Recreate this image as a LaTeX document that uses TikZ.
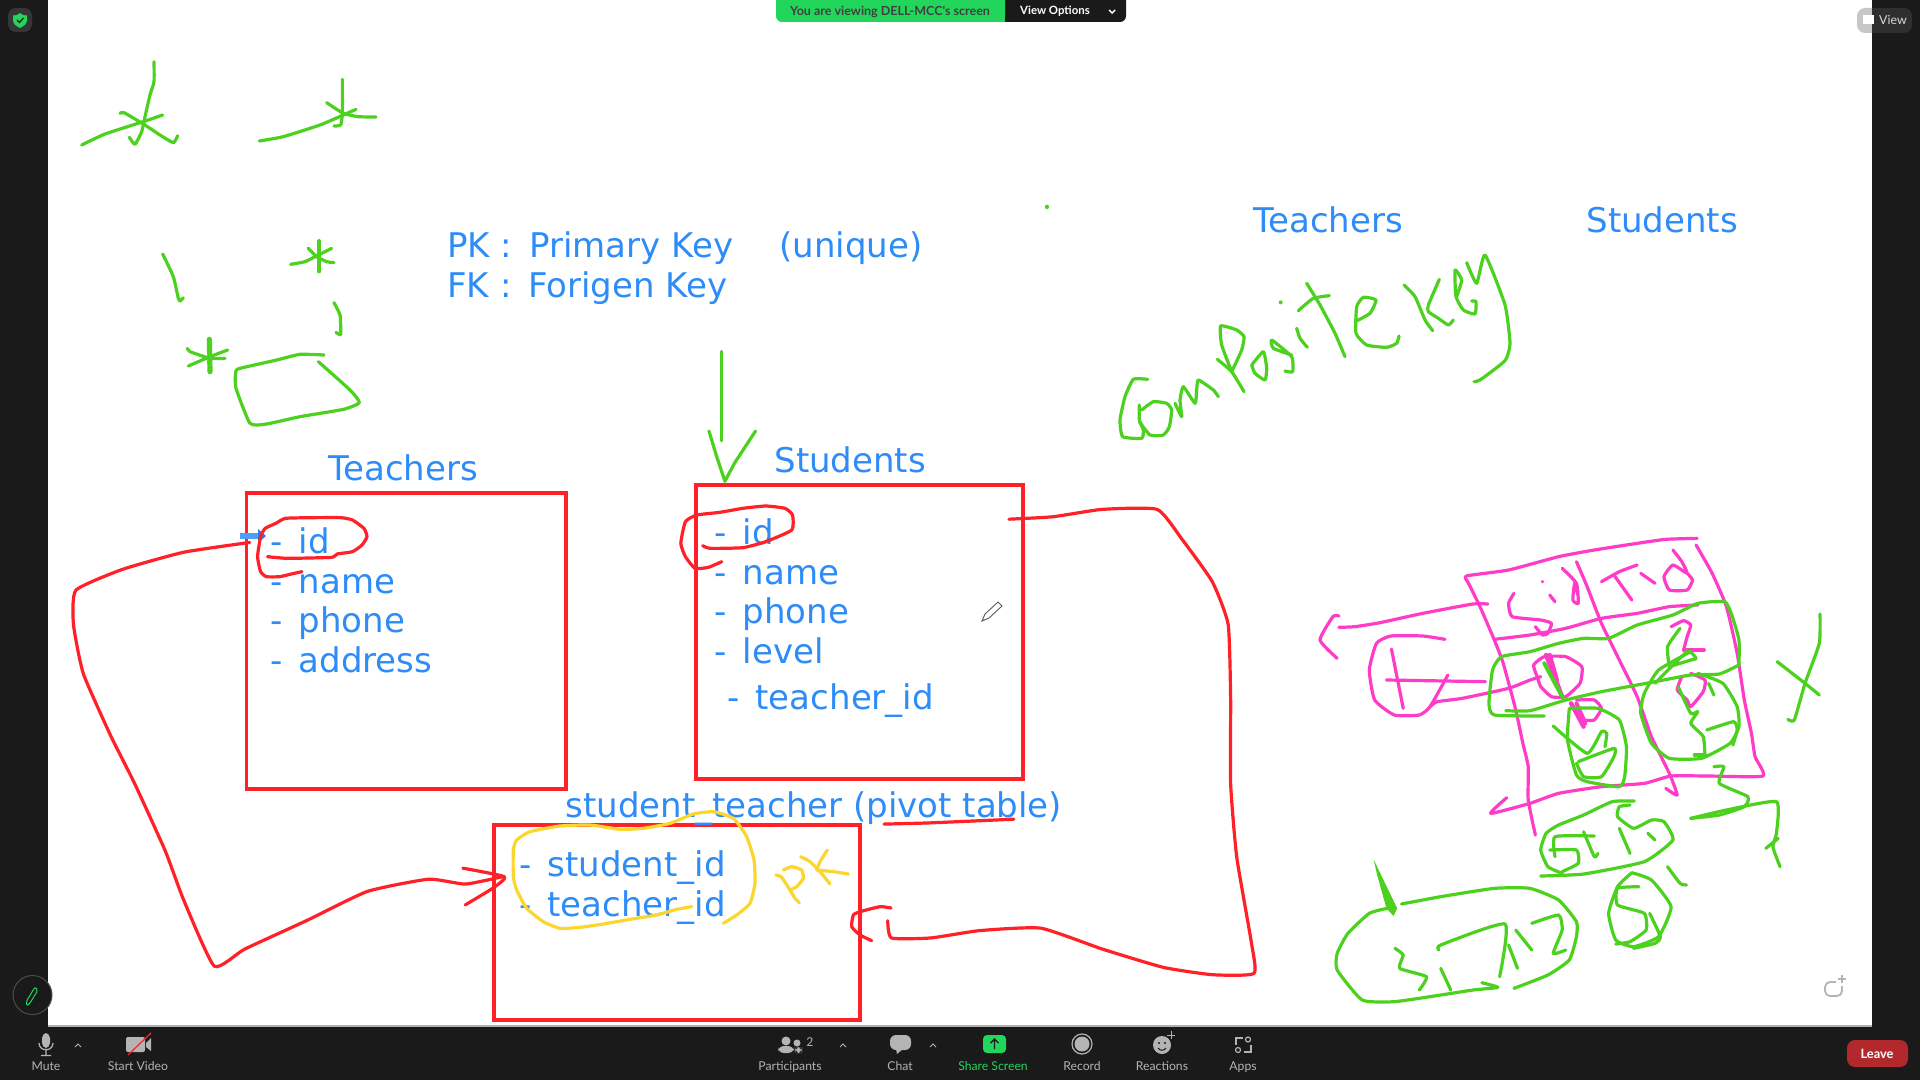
\documentclass[tikz,border=0pt]{standalone}
\usepackage{fontspec}
\setmainfont{DejaVu Sans}
\newfontfamily\uifont{Lato}
\definecolor{barbg}{HTML}{1A1A1A}
\definecolor{txtblue}{HTML}{2E8CF8}
\definecolor{inkred}{HTML}{FF2028}
\definecolor{inkgreen}{HTML}{4CD11E}
\definecolor{inkpink}{HTML}{FF3CC8}
\definecolor{inkyellow}{HTML}{FBD62E}
\definecolor{zgreen}{HTML}{22D65C}
\definecolor{uigrey}{HTML}{B4B4B4}
\definecolor{leavered}{HTML}{B3282D}
\newcommand{\sk}[2][]{\draw[#1] plot[smooth,tension=0.3] coordinates {#2};}
\tikzset{
  x=0.5pt,y=-0.5pt,
  ink/.style={line width=1.6pt,line cap=round,line join=round},
  grn/.style={ink,draw=inkgreen},
  rd/.style={ink,draw=inkred},
  pnk/.style={ink,draw=inkpink},
  yel/.style={ink,draw=inkyellow},
  tbox/.style={draw=inkred,line width=1.7pt},
  big/.style={anchor=base west,inner sep=0pt,text=txtblue,font=\fontsize{17}{20}\selectfont},
  ui/.style={anchor=base,inner sep=0pt,text=uigrey,font=\uifont\fontsize{6.1}{8}\selectfont},
  zoomA/.style={x=0.16667pt,y=-0.16667pt},
  zoomB/.style={x=0.17857pt,y=-0.16667pt},
  zoomC/.style={x=0.19135pt,y=-0.16667pt},
  shr/.style={x=0.61224pt,y=-0.61224pt},
}
\newcommand{\dd}{-\hspace{.47em}}
\begin{document}
\begin{tikzpicture}
\useasboundingbox (0,0) rectangle (1920,1080);
\fill[white] (0,0) rectangle (1920,1080);
\fill[barbg] (0,0) rectangle (48,1080);
\fill[barbg] (1872,0) rectangle (1920,1080);
\fill[barbg] (0,1026) rectangle (1920,1080);
\fill[black!30] (48,1025) rectangle (1872,1026.5);

% boxes
\draw[tbox] (246.5,493) rectangle (566,789);
\draw[tbox] (696,485) rectangle (1023,779);
\draw[tbox] (494,825) rectangle (860,1020);

% texts
\node[big] (tT) at (328,480) {Teachers};
\node[big] (tS) at (774,472) {Students};
\node[big] (t1) at (270,553) {\dd id};
\node[big] (t2) at (270,593) {\dd name};
\node[big] (t3) at (270,632) {\dd phone};
\node[big] (t4) at (270,672) {\dd address};
\node[big] (s1) at (714,544) {\dd id};
\node[big] (s2) at (714,584) {\dd name};
\node[big] (s3) at (714,623) {\dd phone};
\node[big] (s4) at (714,663) {\dd level};
\node[big] (s5) at (727,709) {\dd teacher\_id};
\node[big] (p0) at (565,817) {student\_teacher (pivot table)};
\node[big] (p1) at (519,876) {\dd student\_id};
\node[big] (p2) at (519,916) {\dd teacher\_id};
\node[big] (pk) at (447,258) {PK :\hspace{3pt} Primary Key};
\node[big] (un) at (779,258) {(unique)};
\node[big] (fk) at (447,298) {FK :\hspace{3pt} Forigen Key};
\node[big] (rT) at (1253,233) {Teachers};
\node[big] (rS) at (1586,233) {Students};

% blue arrow
\draw[txtblue!85!white,line width=3pt] (240,536) -- (259,536);
\fill[txtblue!90!black] (258,529) -- (266,536) -- (258,543) -- cycle;

% red ink in reduced coordinates
\begin{scope}[shr,rd]
\sk{(204,443) (150,451) (100,465) (62,482) (60,510) (68,550) (90,600) (110,640) (135,695) (150,735) (175,789) (200,775) (250,752) (300,728) (350,718) (380,722) (410,716)}
\sk{(378,709) (412,716) (403,725) (380,739)}
\sk{(824,424) (860,422) (900,416) (945,416) (965,440) (990,475) (1003,510) (1005,570) (1005,640) (1010,700) (1022,770) (1024,795) (990,796) (950,790) (900,775) (850,758) (800,760) (760,766) (728,766) (725,752)}
\sk{(722,673) (760,672) (828,669)}
\end{scope}
\begin{scope}[shift={(480,790)},zoomA,rd]
\sk{(1233,354) (1200,350) (1140,365) (1120,375) (1115,410) (1140,435) (1175,452)}
\end{scope}
\begin{scope}[shift={(230,480)},zoomC,rd]
\sk{(98,230) (150,235) (265,232) (280,222) (320,215) (345,195) (358,170) (350,145) (320,120) (290,113) (220,113) (145,115) (120,130) (92,145) (80,170) (72,230) (80,275) (95,290) (130,290) (160,282) (188,275)}
\sk{(1235,197) (1255,205) (1340,203) (1400,185) (1468,150) (1470,105) (1450,85) (1400,78) (1340,85) (1280,97) (1220,105) (1190,125) (1178,190) (1190,230) (1215,265) (1250,262) (1285,245)}
\end{scope}

% yellow ink
\begin{scope}[shift={(480,790)},zoomA,yel]
\sk{(635,350) (590,358) (530,375) (450,388) (370,402) (300,412) (240,415) (190,395) (140,355) (110,300) (100,260) (100,180) (110,150) (150,125) (240,108) (330,105) (420,118) (490,115) (570,100) (640,72) (700,65) (760,85) (800,140) (822,210) (825,280) (810,340) (770,375) (730,400)}
\sk{(888,255) (905,262) (930,300) (945,325) (958,338)}
\sk{(910,240) (935,230) (965,240) (970,265) (950,290) (930,300)}
\sk{(1042,180) (1020,215) (1010,240)}
\sk{(962,200) (990,215) (1020,245) (1050,282)}
\sk{(1010,240) (1060,245) (1105,252)}
\end{scope}

% green ink, top left
\begin{scope}[zoomA,grn]
\sk{(462,185) (462,245) (450,285) (435,350) (425,395) (405,433) (388,412)}
\sk{(245,435) (315,402) (430,365) (488,345)}
\sk{(360,340) (372,338) (430,372) (480,405) (520,428) (533,407)}
\sk{(1027,238) (1027,340) (1022,375) (1002,378)}
\sk{(778,423) (850,410) (960,375) (1030,345) (1068,328)}
\sk{(980,308) (1030,340) (1075,350) (1128,351)}
\sk{(488,762) (520,830) (535,895) (540,903) (550,893)}
\sk{(957,722) (957,815)}
\sk{(872,793) (915,785) (955,765) (995,745)}
\sk{(925,745) (950,770) (980,785) (1002,788)}
\sk{(1002,908) (1020,945) (1022,1003) (1008,997)}
\sk[line width=2.6pt]{(628,1018) (630,1115)}
\sk{(562,1045) (570,1055) (630,1075) (675,1075)}
\sk{(565,1098) (630,1070) (683,1050)}
\sk{(972,1065) (900,1063) (830,1080) (720,1105) (707,1115) (708,1165) (750,1270) (800,1272) (900,1250) (1030,1228) (1078,1208) (1050,1170) (955,1085)}
\end{scope}

% green arrow to Students and dot
\begin{scope}[shr,grn]
\sk{(589,287) (589,360)}
\draw (579,352) -- (585,372) -- (592,393) -- (600,378) -- (617,352);
\fill[inkgreen,draw=none] (855,169) circle (1.8);
\end{scope}

% Composite key
\begin{scope}[shift={(1100,240)},zoomA,grn]
\sk{(143,418) (100,418) (75,470) (60,540) (68,590) (125,595) (130,570) (118,540) (118,495)}
\sk{(118,545) (150,585) (190,585) (208,560) (215,510) (200,490) (160,485) (125,510)}
\sk{(225,490) (245,530) (240,480) (250,440) (285,490) (290,450) (295,420) (340,450) (355,470)}
\sk{(352,358) (395,395) (432,455)}
\sk{(395,395) (365,315) (362,258) (410,270) (432,290) (425,330) (395,395)}
\sk{(455,375) (490,335) (500,385) (495,420) (465,400) (455,375)}
\sk{(575,345) (520,325) (515,300) (575,350) (578,395) (555,393)}
\sk{(590,265) (600,295) (622,322)}
\fill[inkgreen,draw=none] (542,187) circle (6);
\sk{(620,130) (660,195) (705,280) (735,350)}
\sk{(595,212) (640,175) (688,167)}
\sk{(765,245) (810,220) (828,180) (790,172) (770,200) (768,280) (800,315) (860,322) (890,310) (897,288)}
\sk{(912,135) (945,170) (975,240) (998,272)}
\sk{(1018,118) (985,195) (985,215) (1015,235) (1045,255) (1060,240)}
\sk{(1070,170) (1085,120) (1065,90) (1068,170) (1090,210) (1125,222) (1128,185) (1115,183)}
\sk{(1100,68) (1130,130) (1155,45) (1215,195) (1230,310) (1215,362) (1140,420) (1122,425)}
\end{scope}

% pink table
\begin{scope}[shift={(1280,500)},zoomB,pnk]
\sk{(1168,115) (1080,118) (1000,130) (880,150) (780,170) (640,210) (522,228) (528,250) (560,320) (600,420) (625,490) (660,630) (680,730) (695,800) (695,900) (715,1005)}
\sk{(830,185) (860,260) (900,370) (950,480) (1000,590) (1040,710) (1090,820) (1112,885) (1080,865)}
\sk{(1165,135) (1210,220) (1250,320) (1280,460) (1300,600) (1320,700) (1330,770) (1352,828) (1200,828) (1095,828) (1020,850) (900,860) (780,880) (700,910) (590,940) (635,893)}
\sk{(600,418) (700,405) (800,385) (900,355) (1000,340) (1090,320) (1170,315)}
\sk{(582,312) (540,312) (400,340) (280,368) (210,380) (165,382)}
\sk{(165,348) (148,350) (112,420) (160,475)}
\sk{(462,418) (400,408) (310,408) (270,430) (250,510) (265,600) (320,645) (390,645) (420,620) (470,525)}
\sk{(312,447) (345,625)}
\sk{(298,540) (575,545)}
\sk{(420,620) (440,605) (510,595) (640,565) (700,540) (730,530)}
\sk{(720,530) (710,495) (740,470) (800,470) (845,500) (840,550) (800,590) (760,590) (730,560) (720,530)}
\sk[line width=2.2pt]{(745,465) (790,590)}
\sk[line width=2.2pt]{(755,465) (775,540)}
\sk[line width=2.2pt]{(815,610) (850,680)}
\sk[line width=2pt]{(830,610) (855,670)}
\sk{(830,600) (880,600) (900,625) (880,660) (850,660)}
\sk{(655,280) (640,310) (650,350) (730,360) (760,370) (750,400) (735,405) (715,380)}
\fill[inkpink,draw=none] (735,245) circle (5);
\sk{(755,285) (770,305)}
\sk{(790,205) (830,250) (835,310) (820,300) (825,250) (835,290)}
\sk{(900,245) (950,215) (1000,195)}
\sk{(935,225) (985,300)}
\sk{(1010,220) (1050,250)}
\sk{(1100,150) (1125,185) (1140,220) (1100,195) (1075,230) (1090,270) (1140,270) (1155,240) (1140,220)}
\sk{(1095,380) (1130,362) (1150,375) (1140,410) (1130,450)}
\sk{(1130,450) (1188,450)}
\sk{(1125,530) (1112,570) (1140,600) (1150,620) (1185,575) (1190,540) (1150,520)}
\end{scope}

% green over table
\begin{scope}[shift={(1280,500)},zoomB,grn]
\sk{(1285,495) (1285,420) (1265,345) (1245,305) (1170,310) (1100,345) (1000,375) (920,415) (850,415) (780,430) (700,455) (620,470) (595,510) (585,610) (600,645) (740,648)}
\sk{(632,632) (700,632) (800,600) (900,575) (1050,545) (1150,525) (1230,522) (1285,495)}
\sk{(1090,500) (1085,440) (1120,385)}
\sk{(1090,500) (1150,480) (1165,475) (1140,455) (1050,550)}
\sk{(1150,455) (1060,510) (1020,580) (1010,640) (1040,730) (1090,775) (1180,775) (1260,730) (1285,680) (1280,620) (1240,550) (1170,520)}
\sk{(1115,560) (1150,640) (1170,635) (1150,670) (1185,710) (1190,770)}
\sk{(1160,765) (1190,765)}
\sk{(1195,690) (1270,665) (1280,690) (1268,735)}
\sk{(1200,550) (1215,585)}
\sk{(810,625) (890,625) (950,660) (970,740) (965,830) (950,860) (860,845) (830,825) (805,720) (810,625)}
\sk{(765,678) (860,760) (900,695) (915,700) (910,740)}
\sk{(835,785) (935,745) (935,770) (900,830) (850,830) (830,790)}
\sk[line width=2pt]{(740,490) (795,600)}
\sk{(1512,342) (1510,430) (1470,550) (1440,660) (1422,658)}
\sk{(1392,485) (1470,550) (1510,585)}
\sk{(1215,800) (1243,800) (1230,850) (1310,890) (1300,920) (1230,945) (1150,955)}
\sk{(1150,955) (1250,930) (1390,905) (1390,1000) (1380,1040) (1400,1100)}
\sk{(1360,1045) (1395,1015)}
\sk{(992,903) (930,905) (850,945) (780,975) (745,1000) (730,1050) (750,1100) (790,1120)}
\sk{(730,1128) (850,1122) (1020,1085) (1100,1020) (1075,965) (1040,960) (990,985) (945,950) (950,920) (980,915)}
\sk{(880,1008) (770,1010) (770,1070)}
\sk{(755,1050) (830,1050) (835,1090) (790,1115)}
\sk{(850,995) (880,1070) (890,1060)}
\sk{(950,985) (980,1060)}
\sk{(1030,1000) (1050,1020)}
\sk{(1085,1100) (1120,1150) (1138,1155)}
\sk{(985,1118) (1040,1140) (1095,1220) (1060,1310) (990,1340) (940,1320) (920,1240) (945,1160) (985,1118)}
\sk{(1005,1160) (945,1165) (945,1215) (1020,1240) (1025,1290) (980,1325) (940,1332)}
\sk{(1035,1240) (1065,1310) (1050,1330) (990,1345)}
\fill[inkgreen,draw=none] (262,1078) -- (328,1225) -- (318,1248) -- (298,1225) -- (272,1125) -- cycle;
\sk{(340,1212) (450,1190) (600,1165) (700,1165) (780,1200) (830,1265) (830,1310) (810,1380) (750,1425) (655,1465)}
\sk{(300,1225) (250,1240) (190,1300) (160,1360) (160,1410) (230,1500) (320,1505) (450,1485) (540,1470) (610,1462) (565,1448)}
\sk{(322,1345) (345,1365) (335,1405) (410,1430) (390,1470)}
\sk{(450,1405) (478,1470)}
\sk{(445,1350) (450,1335) (630,1272) (615,1430)}
\sk{(640,1335) (665,1405)}
\sk{(660,1290) (705,1350)}
\sk{(705,1270) (780,1245) (790,1290) (765,1360) (800,1350)}
\end{scope}

% top banner
\fill[barbg,rounded corners=3pt] (1000,-10) rectangle (1126,22);
\fill[zgreen,rounded corners=3pt] (776,-10) rectangle (1005,22);
\fill[zgreen] (990,-10) rectangle (1005,22);
\node[inner sep=0pt,text=black!75,font=\uifont\bfseries\fontsize{6.25}{8}\selectfont] (ban) at (890,11.5) {You are viewing DELL-MCC's screen};
\node[inner sep=0pt,text=white,font=\uifont\bfseries\fontsize{5.7}{8}\selectfont] (opt) at (1055,11.5) {View Options};
\draw[white,line width=.7pt] (1109,10) -- (1112,13) -- (1115,10);

% shield
\fill[white!12!barbg,rounded corners=4pt] (8,8) rectangle (32,32);
\fill[zgreen] (20,13) .. controls (23,15.5) and (25,15.5) .. (27,15.5) -- (27,20) .. controls (27,24) and (24,26) .. (20,28) .. controls (16,26) and (13,24) .. (13,20) -- (13,15.5) .. controls (15,15.5) and (17,15.5) .. (20,13) -- cycle;
\draw[barbg,line width=.6pt] (17,20) -- (19.5,22.5) -- (23.5,18);

% pencil button
\fill[barbg] (32.5,995) circle (19.5);
\draw[white!22!barbg,line width=.5pt] (32.5,995) circle (19.5);
\draw[zgreen,line width=.5pt,rounded corners=1pt] (26,1002) -- (27,1006) -- (30,1003) -- (38,990) -- (35,987) -- cycle;

% pencil cursor
\draw[black!65,line width=.45pt,fill=white] (982,621) -- (985,614) -- (998,602) -- (1002,606) -- (989,618) -- cycle;

% screenshot icon
\draw[uigrey,line width=.9pt,rounded corners=2.5pt] (1836,982) -- (1825,982) -- (1825,996) -- (1842,996) -- (1842,986);
\draw[uigrey,line width=.7pt] (1838,979) -- (1846,979) (1842,975) -- (1842,983);

% View corner
\begin{scope}
\clip (1800,0) rectangle (1872,50);
\fill[black!22,rounded corners=4pt] (1857,8) rectangle (1912,33);
\end{scope}
\begin{scope}
\clip (1872,0) rectangle (1920,50);
\fill[white!9!barbg,rounded corners=4pt] (1857,8) rectangle (1912,33);
\end{scope}
\fill[white] (1863,15) rectangle (1874,24);
\node[inner sep=0pt,text=white!85!black,font=\uifont\fontsize{6.2}{8}\selectfont] (vw) at (1893,20.5) {View};

% bottom bar icons and labels
\node[ui] (l1) at (46,1070) {Mute};
\node[ui] (l2) at (138,1070) {Start Video};
\node[ui] (l3) at (790,1070) {Participants};
\node[ui] (l4) at (900,1070) {Chat};
\node[ui,text=zgreen] (l5) at (993,1070) {Share Screen};
\node[ui] (l6) at (1082,1070) {Record};
\node[ui] (l7) at (1162,1070) {Reactions};
\node[ui] (l8) at (1243,1070) {Apps};
\node[ui,anchor=center] (l9) at (810,1042) {2};
% mute
\fill[uigrey,rounded corners=2.5pt] (42,1033) rectangle (50,1048);
\draw[uigrey,line width=.6pt] (39,1043) .. controls (39,1052) and (53,1052) .. (53,1043) (46,1050) -- (46,1055) (41,1055.5) -- (51,1055.5);
\foreach \cx in {78,843,933}{\draw[uigrey,line width=.5pt] (\cx-3,1047) -- (\cx,1044) -- (\cx+3,1047);}
% video
\fill[uigrey,rounded corners=1pt] (126,1037) rectangle (145,1052);
\fill[uigrey] (146,1043) -- (151,1038) -- (151,1051) -- (146,1047) -- cycle;
\draw[inkred,line width=.6pt] (128,1055) -- (151,1033);
% participants
\fill[uigrey] (786,1041) circle (4.5) (797,1043) circle (3.5);
\fill[uigrey,rounded corners=3pt] (778,1053) rectangle (794,1046);
\fill[uigrey,rounded corners=3pt] (795,1053) rectangle (802,1047);
% chat
\fill[uigrey,rounded corners=3pt] (890,1035) rectangle (911,1050);
\fill[uigrey] (896,1049) -- (897,1054) -- (903,1049) -- cycle;
% share
\fill[zgreen,rounded corners=2pt] (983,1035) rectangle (1006,1053);
\draw[barbg,line width=.7pt] (994.5,1049) -- (994.5,1039) (990.5,1043) -- (994.5,1039) -- (998.5,1043);
% record
\draw[uigrey,line width=.6pt] (1082,1044) circle (10);
\fill[uigrey] (1082,1044) circle (7.5);
% reactions
\fill[uigrey] (1162,1045) circle (9);
\fill[barbg] (1159,1043) circle (1.2) (1165,1043) circle (1.2);
\draw[barbg,line width=.5pt] (1158,1048) .. controls (1160,1051) and (1164,1051) .. (1166,1048);
\draw[uigrey,line width=.5pt] (1167,1035) -- (1175,1035) (1171,1031) -- (1171,1039);
% apps
\draw[uigrey,line width=.6pt] (1236,1045) -- (1236,1038) -- (1243,1038) (1251,1045) -- (1251,1052) -- (1244,1052);
\draw[uigrey,line width=.6pt] (1248,1039.5) circle (2.5) (1238,1050) circle (2.5);
% leave
\fill[leavered,rounded corners=4pt] (1847,1040) rectangle (1908,1067);
\node[inner sep=0pt,text=white,font=\uifont\bfseries\fontsize{6.4}{8}\selectfont] (lv) at (1877,1053.5) {Leave};
\end{tikzpicture}
\end{document}
